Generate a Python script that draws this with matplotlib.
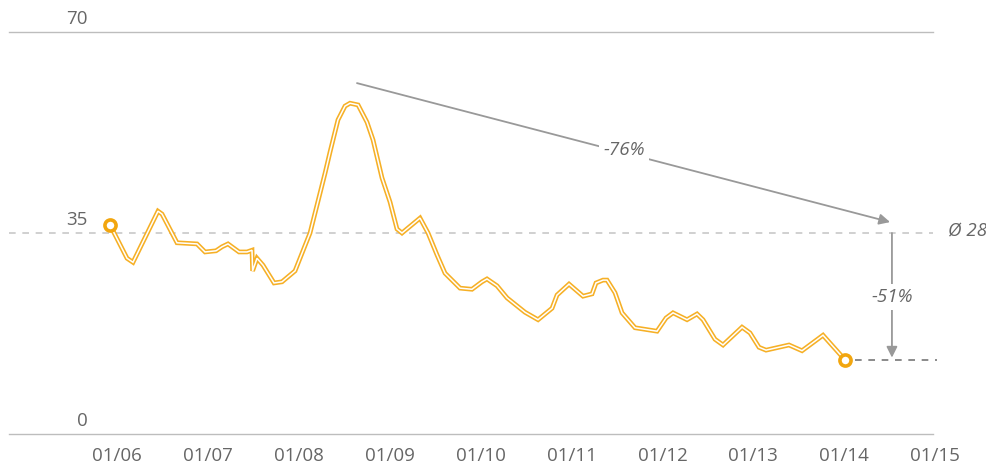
import matplotlib
matplotlib.use("Agg")
import matplotlib.pyplot as plt

# months since 01/2006 and index values
monate = [-0.92, 1.32, 2.11, 5.41, 5.94, 7.92, 10.56, 11.62, 13.07, 13.86, 14.65, 16.11,
          17.16, 17.82, 17.9, 18.48, 19.27, 20.73, 21.78, 23.50, 25.48, 27.46, 28.12,
          29.17, 30.10, 30.76, 31.82, 33.00, 33.80, 34.98, 36.04, 36.96, 37.62, 40.00,
          41.06, 42.24, 43.30, 45.28, 46.86, 48.18, 48.84, 50.17, 51.49, 53.86, 55.58,
          57.43, 58.09, 59.67, 61.52, 62.71, 63.23, 64.16, 64.69, 65.74, 66.67, 68.38,
          71.29, 72.48, 73.40, 75.25, 76.57, 77.36, 78.94, 80.00, 82.51, 83.56, 84.75,
          85.68, 88.71, 90.43, 93.20, 96.11]
werte = [36.4, 30.6, 29.9, 38.8, 38.3, 33.3, 33.1, 31.7, 31.9, 32.6, 33.1, 31.7,
         31.7, 32.0, 28.4, 30.6, 29.4, 26.3, 26.5, 28.4, 35.0, 45.4, 49.1,
         54.7, 57.1, 57.6, 57.3, 54.3, 51.2, 44.6, 40.4, 35.7, 35.0, 37.6,
         35.0, 31.2, 28.0, 25.4, 25.2, 26.5, 27.0, 25.8, 23.7, 21.2, 19.9,
         21.9, 24.2, 26.1, 24.0, 24.4, 26.3, 26.8, 26.8, 24.6, 21.1, 18.5,
         17.9, 20.2, 21.1, 19.9, 20.9, 19.9, 16.5, 15.5, 18.6, 17.6, 15.1,
         14.6, 15.5, 14.5, 17.2, 12.9]

x_ticks = [0, 12, 24, 36, 48, 60, 72, 84, 96, 108]
x_labels = ["01/06", "01/07", "01/08", "01/09", "01/10", "01/11", "01/12", "01/13", "01/14", "01/15"]
y_ticks = [0, 35, 70]
durchschnitt_label = "Ø 28"
ende = 12.9

orange = "#F6B026"
grau = "#666666"
fs = 13.5
plt.rcParams['font.family'] = ['Open Sans', 'DejaVu Sans']

fig = plt.figure(figsize=(9.86, 4.65), dpi=100)
ax = fig.add_axes([9 / 986, 31 / 465, 924 / 986, 402 / 465])
ax.set_xlim(-14.26, 107.72)
ax.set_ylim(0, 70)
ax.axis("off")

# gridlines
ax.axhline(70, color="#bdbdbd", lw=1, clip_on=False)
ax.axhline(0, color="#bdbdbd", lw=1, clip_on=False)
ax.axhline(35, color="#c8c8c8", lw=1.2, dashes=(4, 4))

for y in y_ticks:
    ax.annotate(str(y), xy=(0, y), xycoords=("axes fraction", "data"),
                xytext=(79, 4), textcoords="offset pixels", ha="right", va="bottom",
                fontsize=fs, color=grau)
for x, lab in zip(x_ticks, x_labels):
    ax.annotate(lab, xy=(x, 0), xytext=(0, -13), textcoords="offset pixels",
                ha="center", va="top", fontsize=fs, color=grau, annotation_clip=False)

# double line
ax.plot(monate, werte, color=orange, lw=3.4, solid_joinstyle="miter", zorder=3)
ax.plot(monate, werte, color="white", lw=1.1, solid_joinstyle="miter", zorder=4)
ax.plot([monate[0], monate[-1]], [werte[0], werte[-1]], "o", ms=8, mfc="white",
        mec="#F2A60F", mew=2.6, ls="none", zorder=5)

# end level
ax.plot([97.4, 108.2], [ende, ende], color="#777777", lw=1.2, dashes=(4, 4), clip_on=False)

# arrows
ax.annotate("", xy=(102.05, 36.9), xytext=(31.68, 61.1),
            arrowprops=dict(arrowstyle="-|>", color="#999999", lw=1.3, mutation_scale=16,
                            shrinkA=0, shrinkB=0))
ax.text(66.9, 49.4, "-76%", ha="center", va="center", fontsize=fs, style="italic",
        color=grau, bbox=dict(fc="white", ec="none", pad=3))
ax.annotate("", xy=(102.3, 13.3), xytext=(102.3, 35),
            arrowprops=dict(arrowstyle="-|>", color="#999999", lw=1.3, mutation_scale=16,
                            shrinkA=0, shrinkB=0))
ax.text(102.3, 23.9, "-51%", ha="center", va="center", fontsize=fs, style="italic",
        color=grau, bbox=dict(fc="white", ec="none", pad=3))
ax.text(109.7, 35.2, durchschnitt_label, ha="left", va="center", fontsize=fs,
        style="italic", color=grau, clip_on=False)

fig.savefig("out.png", dpi=100)
